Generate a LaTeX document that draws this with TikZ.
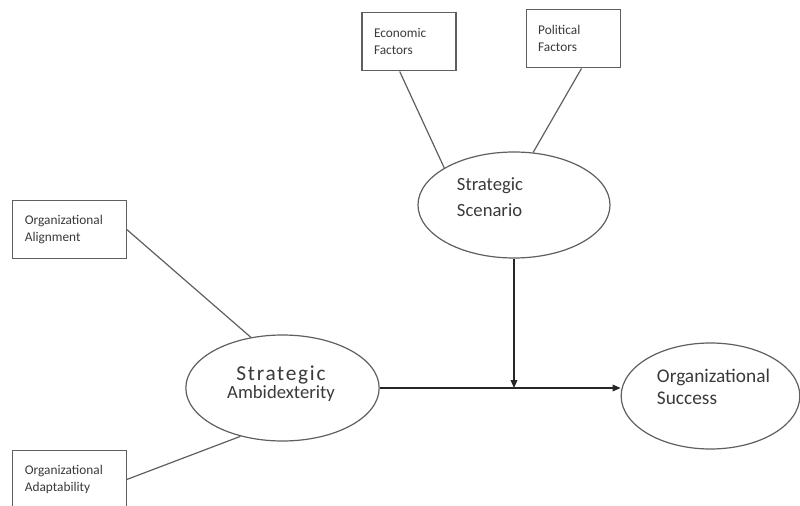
\documentclass[tikz,border=0pt]{standalone}
\usepackage{fontspec}
\setmainfont{Carlito}
\usetikzlibrary{shapes.geometric,arrows.meta}
\definecolor{edgegray}{HTML}{5F5F5F}
\definecolor{inkgray}{HTML}{3A3A3A}
\newcommand{\frameall}{(0,0) rectangle (800,506)}

\begin{document}
\begin{tikzpicture}[x=0.75pt,y=-0.75pt,
  factor/.style={draw=edgegray,line width=0.9pt,rectangle,minimum height=44pt,inner xsep=9pt,align=left,font=\fontsize{10}{12.5}\selectfont,text=inkgray},
  concept/.style={draw=edgegray,line width=0.9pt,ellipse,inner sep=0pt,minimum height=79.5pt},
  caption/.style={align=left,text=inkgray,inner sep=0pt},
  link/.style={draw=edgegray,line width=0.9pt},
  flow/.style={draw=black!85,line width=0.9pt,-{Triangle[length=6pt,width=5pt]}}]
\useasboundingbox \frameall;
\fill[white] \frameall;
% factor boxes
\node[factor,text width=52.5pt] (econ) at (409,41.5) {Economic\\Factors};
\node[factor,text width=53pt] (pol) at (573.5,38.5) {Political\\Factors};
\node[factor,text width=67pt] (align) at (69.5,229.5) {Organizational\\Alignment};
\node[factor,text width=67pt] (adapt) at (69.5,479.5) {Organizational\\Adaptability};
% concepts
\node[concept,minimum width=144pt] (scen) at (514,205) {};
\node[concept,minimum width=145pt] (amb) at (282.5,388) {};
\node[concept,minimum width=134pt] (succ) at (710.5,396) {};
\node[caption,font=\fontsize{14}{19}\selectfont] (scentxt) at (490,197) {Strategic\\Scenario};
\node[caption,align=center] (ambtxt) at (281,384) {{\fontsize{16}{16.5}\selectfont\addfontfeatures{LetterSpace=8}Strategic}\\[0pt]{\fontsize{14}{16.5}\selectfont Ambidexterity}};
\node[caption,font=\fontsize{14.5}{17}\selectfont] (succtxt) at (713.5,387) {Organizational\\Success};
% connectors
\draw[link] ([xshift=-7pt]econ.south) -- (scen.152);
\draw[link] ([xshift=6pt]pol.south) -- (scen.70);
\draw[link] (align.east) -- (amb.122);
\draw[link] (adapt.east) -- (amb.229);
\draw[flow] (amb.east) -- (amb.east -| succ.west);
\draw[flow] (scen.south) -- (scen.south |- amb.east);
\end{tikzpicture}
\end{document}
